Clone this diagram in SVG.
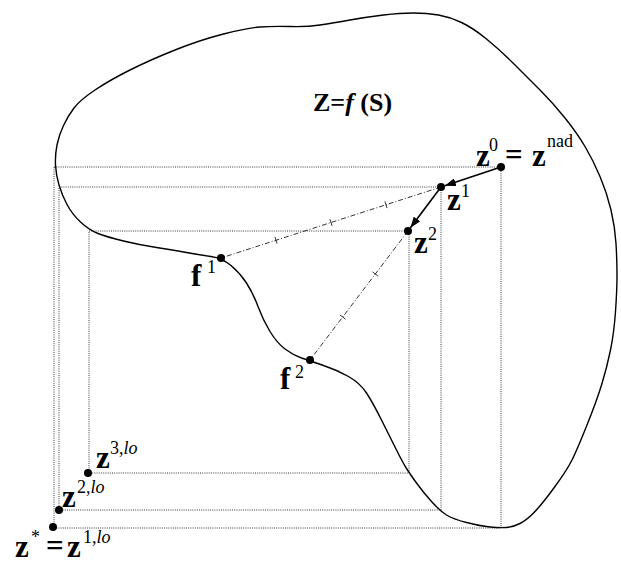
<svg xmlns="http://www.w3.org/2000/svg" width="621" height="569" viewBox="0 0 621 569">
<style>
.bd{fill:none;stroke:#000;stroke-width:1.4}
.dot{fill:#000}
.dt{fill:none;stroke:#222;stroke-width:0.9;stroke-dasharray:1 1.2}
.dd{fill:none;stroke:#000;stroke-width:0.8;stroke-dasharray:5 2 1 2}
.tk{stroke:#000;stroke-width:0.8}
.ar{stroke:#000;stroke-width:1.6;fill:none}
.b{font-family:"Liberation Serif","Times New Roman",serif;font-weight:bold;font-size:31px;fill:#000}
.sp{font-family:"Liberation Serif","Times New Roman",serif;font-weight:normal;font-size:18px;fill:#000}
.eq{font-family:"Liberation Serif","Times New Roman",serif;font-weight:bold;font-size:31px;fill:#000}
.it{font-style:italic}
</style>
<defs>
<marker id="ah" markerUnits="userSpaceOnUse" markerWidth="12" markerHeight="8" refX="11" refY="4" orient="auto">
<path d="M0,0 L11,4 L0,8 z" fill="#000"/>
</marker>
</defs>
<g id="region">
<path class="bd" d="M231,265.5 Q222,258 211,256.5 Q200,255 186.5,252.5 Q173,250 156.5,247.5 Q140,245 123.5,241 Q107,237 98,233.5 Q89,230 80.5,222 Q72,214 67,204.5 Q62,195 59,185 Q56,175 55.5,165 Q55,155 57,145 Q59,135 63.5,125.5 Q68,116 74,108 Q80,100 95,90 Q110,80 130,70 Q150,60 175,50 Q200,40 223.5,34 Q247,28 260,27 Q273,26 290,26.5 Q307,27 320,25 Q333,23 350,20 Q367,17 383.5,15 Q400,13 413.5,13 Q427,13 438.5,15 Q450,17 461.5,22.5 Q473,28 486.5,39 Q500,50 513.5,63.5 Q527,77 540,90 Q553,103 565,118 Q577,133 585,146.5 Q593,160 600,176.5 Q607,193 611,210 Q615,227 616,243.5 Q617,260 617,275 Q617,290 615.5,311.5 Q614,333 610.5,350 Q607,367 602,383.5 Q597,400 587,425 Q577,450 572,460 Q567,470 555,486.5 Q543,503 535,511.5 Q527,520 520,523.5 Q513,527 506.5,527.5 Q500,528 490,527 Q480,526 466.5,522.5 Q453,519 446.5,515 Q440,511 431.5,501.5 Q423,492 416.5,483 Q410,474 406.5,468.5 Q403,463 396.5,450 Q390,437 381.5,420 Q373,403 366.5,393 Q360,383 348.5,376.5 Q337,370 323.5,365.5 Q310,361 301.5,358 Q293,355 285,349 Q277,343 270,331.5 Q263,320 258,306.5 Q253,293 246.5,283 Q240,273 231,265.5 Z"/>
<text x="313" y="111" style="font-family:'Liberation Serif','Times New Roman',serif;font-weight:bold;font-size:26px">Z=<tspan font-style="italic">f</tspan> (S)</text>
</g>
<g id="connectors">
<rect class="dt" x="54" y="167" width="447" height="361"/>
<rect class="dt" x="59" y="187" width="382" height="323"/>
<rect class="dt" x="89" y="231" width="320" height="242"/>
<line class="dd" x1="441" y1="187" x2="221" y2="258"/>
<line class="dd" x1="408" y1="231" x2="310" y2="360"/>
<line class="tk" x1="384.9" y1="201.4" x2="387.1" y2="208.1"/>
<line class="tk" x1="329.9" y1="219.2" x2="332.1" y2="225.8"/>
<line class="tk" x1="274.9" y1="236.9" x2="277.1" y2="243.6"/>
<line class="tk" x1="372.5" y1="271.9" x2="378.1" y2="276.1"/>
<line class="tk" x1="339.9" y1="314.9" x2="345.5" y2="319.1"/>
<line class="ar" x1="501" y1="167" x2="444.8" y2="185.7" marker-end="url(#ah)"/>
<line class="ar" x1="441" y1="187" x2="410.4" y2="227.8" marker-end="url(#ah)"/>
</g>
<g id="z0">
<circle class="dot" cx="501" cy="167" r="4"/>
<text class="b" x="476" y="166">z</text>
<text class="sp" x="489" y="151">0</text>
<text class="eq" x="505" y="165">=</text>
<text class="b" x="532" y="166">z</text>
<text class="sp" x="547" y="147">nad</text>
</g>
<g id="z1">
<circle class="dot" cx="441" cy="187" r="4"/>
<text class="b" x="447" y="210">z</text>
<text class="sp" x="461" y="197">1</text>
</g>
<g id="z2">
<circle class="dot" cx="408" cy="231" r="4"/>
<text class="b" x="414" y="253">z</text>
<text class="sp" x="428" y="240">2</text>
</g>
<g id="f1">
<circle class="dot" cx="221" cy="258" r="4"/>
<text class="b" x="191" y="286">f</text>
<text class="sp" x="207" y="273">1</text>
</g>
<g id="f2">
<circle class="dot" cx="310" cy="360" r="4"/>
<text class="b" x="280" y="389">f</text>
<text class="sp" x="295" y="378">2</text>
</g>
<g id="z3lo">
<circle class="dot" cx="88" cy="473" r="4"/>
<text class="b" x="96" y="468">z</text>
<text class="sp" x="110" y="454">3,<tspan class="it">lo</tspan></text>
</g>
<g id="z2lo">
<circle class="dot" cx="59" cy="510" r="4"/>
<text class="b" x="62" y="507">z</text>
<text class="sp" x="77" y="493">2,<tspan class="it">lo</tspan></text>
</g>
<g id="zstar">
<circle class="dot" cx="53" cy="527" r="4"/>
<text class="b" x="15" y="557">z</text>
<text class="sp" x="31" y="543">*</text>
<text class="eq" x="46" y="556">=</text>
<text class="b" x="67" y="557">z</text>
<text class="sp" x="83" y="543">1,<tspan class="it">lo</tspan></text>
</g>
</svg>
